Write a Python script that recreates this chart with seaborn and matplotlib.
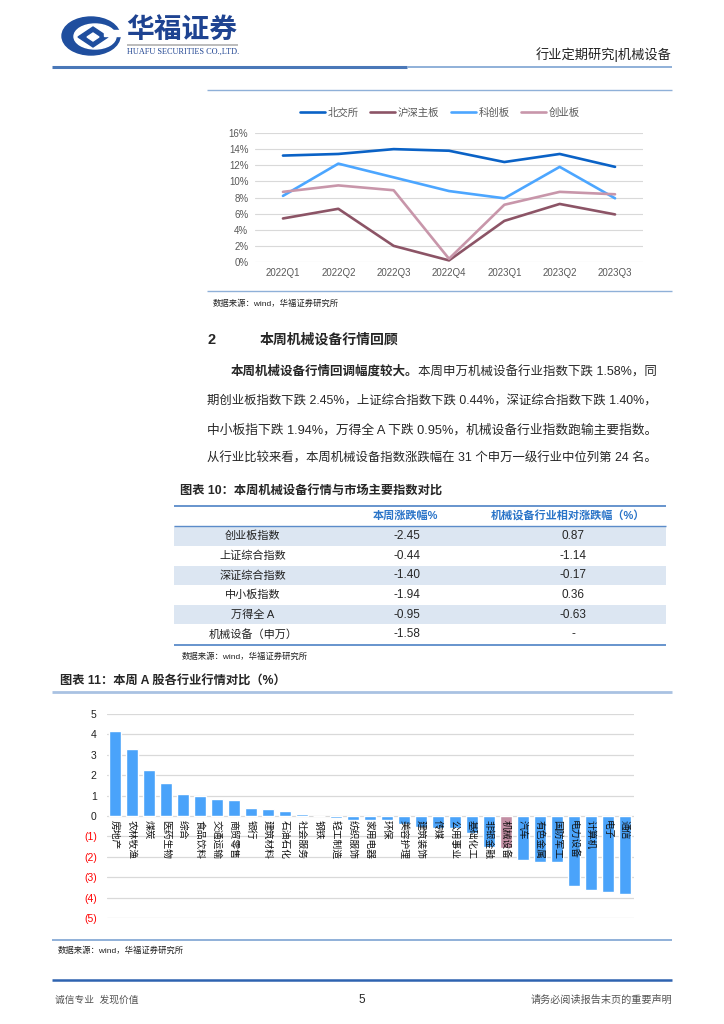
import matplotlib
matplotlib.use("Agg")
import matplotlib.pyplot as plt
import matplotlib.patches as mpatches
import pandas as pd
import seaborn as sns

# ---- 图表 9 data: quarters and four boards (%) ----
quarters = ['2022Q1', '2022Q2', '2022Q3', '2022Q4', '2023Q1', '2023Q2', '2023Q3']
bse = [13.2, 13.4, 14.0, 13.8, 12.4, 13.4, 11.8]
main_board = [5.4, 6.6, 2.0, 0.2, 5.1, 7.2, 5.9]
star_market = [8.2, 12.2, 10.5, 8.8, 7.9, 11.8, 7.9]
chinext = [8.7, 9.5, 8.9, 0.4, 7.1, 8.7, 8.4]
board_names = ['北交所', '沪深主板', '科创板', '创业板']

# ---- 图表 10 table ----
index_names = ['创业板指数', '上证综合指数', '深证综合指数', '中小板指数', '万得全 A', '机械设备（申万）']
week_change = ['-2.45', '-0.44', '-1.40', '-1.94', '-0.95', '-1.58']
relative_change = ['0.87', '-1.14', '-0.17', '0.36', '-0.63', '-']

# ---- 图表 11 data: weekly change by industry (%) ----
industries = ['房地产', '农林牧渔', '煤炭', '医药生物', '综合', '食品饮料', '交通运输', '商贸零售',
              '银行', '建筑材料', '石油石化', '社会服务', '钢铁', '轻工制造', '纺织服饰', '家用电器',
              '环保', '美容护理', '建筑装饰', '传媒', '公用事业', '基础化工', '非银金融', '机械设备',
              '汽车', '有色金属', '国防军工', '电力设备', '计算机', '电子', '通信']
ind_change = [4.17, 3.29, 2.25, 1.60, 1.07, 0.96, 0.84, 0.80, 0.41, 0.34, 0.25, 0.10, 0.01,
              -0.10, -0.18, -0.21, -0.21, -0.40, -0.53, -0.58, -0.61, -0.81, -1.50, -1.58,
              -2.15, -2.24, -2.25, -3.44, -3.63, -3.71, -3.81]

para_lines = [
    '期创业板指数下跌 2.45%，上证综合指数下跌 0.44%，深证综合指数下跌 1.40%，',
    '中小板指下跌 1.94%，万得全 A 下跌 0.95%，机械设备行业指数跑输主要指数。',
    '从行业比较来看，本周机械设备指数涨跌幅在 31 个申万一级行业中位列第 24 名。',
]

sns.set_style("white")
plt.rcParams['font.family'] = ['Liberation Sans', 'Noto Sans CJK SC', 'DejaVu Sans']
plt.rcParams['axes.unicode_minus'] = False

W, H = 724, 1024
fig = plt.figure(figsize=(W / 100, H / 100), dpi=100)
page = fig.add_axes([0, 0, 1, 1])
page.set_xlim(0, W)
page.set_ylim(H, 0)
page.axis('off')
renderer = fig.canvas.get_renderer()


def ax_box(left, top, right, bottom):
    return [left / W, 1 - bottom / H, (right - left) / W, (bottom - top) / H]


def hline(y, x0, x1, color, lw):
    page.plot([x0, x1], [y, y], color=color, lw=lw, solid_capstyle='butt')


def fit(x, y, s, width, size, **kw):
    t = page.text(x, y, s, fontsize=size, va='center', **kw)
    w = t.get_window_extent(renderer).width
    t.set_fontsize(size * width / w)
    return t


# ---- header / logo ----
page.add_patch(mpatches.Ellipse((91, 36), 58, 38, color='#1F4E9E'))
page.add_patch(mpatches.Ellipse((95, 36.5), 42, 25, color='white'))
page.add_patch(mpatches.Polygon([(78, 37), (93, 27), (108, 37), (93, 47)], color='#1F4E9E'))
page.add_patch(mpatches.Polygon([(87, 37), (93, 33), (99, 37), (93, 41)], color='white'))
page.add_patch(mpatches.Rectangle((104, 30), 16, 6, color='white'))
page.text(126, 31, '华福证券', fontsize=20, fontweight='bold', color='#1E4391',
          family=['Noto Sans CJK SC'], va='center')
hline(45, 127, 238, '#B0B0B0', 1.2)
fit(127, 52, 'HUAFU SECURITIES CO.,LTD.', 111, 5.5, family=['Liberation Serif'], color='#1E4391')
page.text(672, 55, '行业定期研究|机械设备', fontsize=9.5, color='#222222', ha='right', va='center')
hline(67, 52, 407, '#4A78B8', 2.2)
hline(67, 407, 672, '#8FB0D8', 1.4)

# ---- 图表 9: line chart ----
hline(90, 207, 672, '#8FB0D8', 1.0)
hline(291, 207, 672, '#8FB0D8', 1.0)
lines_df = pd.DataFrame({
    '季度': quarters * 4,
    '板块': [n for n in board_names for _ in quarters],
    '占比': bse + main_board + star_market + chinext,
})
ax1 = fig.add_axes(ax_box(255.3, 133, 642.7, 262))
sns.lineplot(data=lines_df, x='季度', y='占比', hue='板块', sort=False, ax=ax1, lw=1.9,
             palette=['#0A62C6', '#8C5466', '#4CA6FF', '#C896AA'])
ax1.set_xlim(-0.5, 6.5)
ax1.set_ylim(0, 16)
ax1.set_yticks(range(0, 17, 2))
ax1.set_yticklabels([f'{v}%' for v in range(0, 17, 2)])
ax1.set_xlabel('')
ax1.set_ylabel('')
ax1.grid(axis='y', color='#D9D9D9', lw=0.8)
ax1.set_axisbelow(True)
for s in ax1.spines.values():
    s.set_visible(False)
ax1.tick_params(length=0, labelsize=7, labelcolor='#595959')
ax1.tick_params(axis='y', pad=5)
ax1.tick_params(axis='x', pad=4)
ax1.legend(ncol=4, frameon=False, loc='center', bbox_to_anchor=(440 / W, 1 - 113 / H),
           bbox_transform=fig.transFigure, fontsize=7.5, handlelength=2.4, handletextpad=0.25,
           columnspacing=1.1, labelcolor='#595959')
page.text(213, 304, '数据来源：wind，华福证券研究所', fontsize=6, color='#222222', va='center')

# ---- section 2 text ----
page.text(207, 340, '2', fontsize=10.5, fontweight='bold', va='center')
page.text(260, 340, '本周机械设备行情回顾', fontsize=10, fontweight='bold', va='center')
b = page.text(231, 372, '本周机械设备行情回调幅度较大。', fontsize=9, fontweight='bold', va='center')
n = page.text(0, 372, '本周申万机械设备行业指数下跌 1.58%，同', fontsize=9, va='center')
wb = b.get_window_extent(renderer).width
wn = n.get_window_extent(renderer).width
k = (657 - 231) / (wb + wn)
b.set_fontsize(9 * k)
n.set_fontsize(9 * k)
n.set_x(231 + wb * k)
for i, line in enumerate(para_lines):
    fit(207, 401 + 29 * i, line, 450, 9)

# ---- 图表 10: table ----
page.text(180, 491, '图表 10：本周机械设备行情与市场主要指数对比', fontsize=8.8, fontweight='bold', va='center')
row_edges = [526, 545.7, 565.7, 585, 605, 624.3, 644.3]
for i in range(6):
    if i % 2 == 0:
        page.add_patch(mpatches.Rectangle((174, row_edges[i]), 492, row_edges[i + 1] - row_edges[i],
                                          color='#DCE6F2', lw=0))
    yc = (row_edges[i] + row_edges[i + 1]) / 2
    page.text(253, yc, index_names[i], fontsize=8, ha='center', va='center', color='#222222')
    page.text(407, yc, week_change[i], fontsize=8.5, ha='center', va='center')
    page.text(573, yc, relative_change[i], fontsize=8.5, ha='center', va='center')
page.text(405, 516, '本周涨跌幅%', fontsize=8, fontweight='bold', color='#2A74C8', ha='center', va='center')
page.text(568, 516, '机械设备行业相对涨跌幅（%）', fontsize=8, fontweight='bold', color='#2A74C8',
          ha='center', va='center')
hline(505.5, 174, 666, '#5B8BC9', 1.3)
hline(526, 174, 666, '#5B8BC9', 1.0)
hline(644.5, 174, 666, '#5B8BC9', 1.3)
page.text(182, 657, '数据来源：wind，华福证券研究所', fontsize=6, color='#222222', va='center')

# ---- 图表 11: bar chart ----
page.text(60, 681, '图表 11：本周 A 股各行业行情对比（%）', fontsize=8.8, fontweight='bold', va='center')
hline(692, 52, 672, '#A9C2E2', 2.0)
ax2 = fig.add_axes(ax_box(106.5, 714, 633.5, 918))
bar_colors = ['#C38FA4' if n == '机械设备' else '#4AA3FA' for n in industries]
sns.barplot(x=industries, y=ind_change, hue=industries, palette=bar_colors, legend=False,
            width=0.66, ax=ax2, saturation=1)
ax2.set_xlim(-0.5, 30.5)
ax2.set_ylim(-5, 5)
ax2.set_yticks(range(-5, 6))
ax2.set_yticklabels([str(v) if v >= 0 else f'({-v})' for v in range(-5, 6)])
for lab, v in zip(ax2.get_yticklabels(), range(-5, 6)):
    lab.set_color('#FF0000' if v < 0 else '#222222')
ax2.set_xticks([])
ax2.grid(axis='y', color='#D9D9D9', lw=0.9)
ax2.set_axisbelow(True)
for s in ax2.spines.values():
    s.set_visible(False)
ax2.tick_params(length=0, labelsize=7.5, pad=7)
for i, name in enumerate(industries):
    ax2.text(i, -0.22, name, rotation=270, ha='center', va='top', fontsize=7,
             family=['Noto Sans CJK SC'], color='#111111')
hline(940, 52, 672, '#8FB0D8', 1.4)
page.text(58, 951, '数据来源：wind，华福证券研究所', fontsize=6, color='#222222', va='center')

# ---- footer ----
hline(980, 52, 672, '#2E63B0', 1.8)
page.text(55, 1000, '诚信专业  发现价值', fontsize=7, color='#555555', va='center')
page.text(362, 1000, '5', fontsize=8.5, ha='center', va='center')
page.text(672, 1000, '请务必阅读报告末页的重要声明', fontsize=7.3, color='#555555', ha='right', va='center')

fig.savefig('out.png', dpi=100)
